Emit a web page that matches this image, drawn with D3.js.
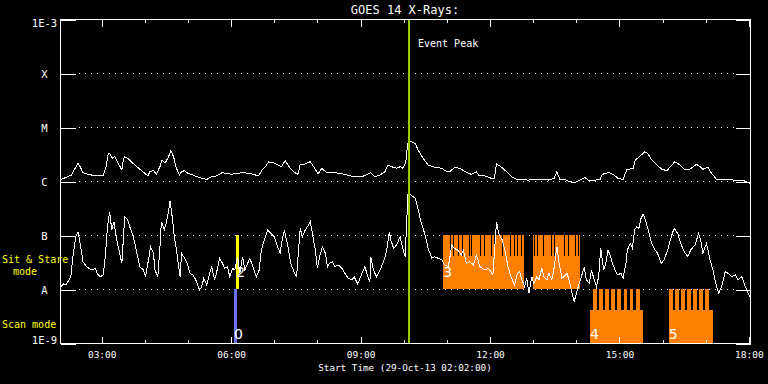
<!DOCTYPE html>
<html>
<head>
<meta charset="UTF-8">
<title>GOES 14 X-Rays</title>
<script src="https://d3js.org/d3.v7.min.js"></script>
<style>
  html, body { margin: 0; padding: 0; background: #000; }
  svg { display: block; }
  text { font-family: 'DejaVu Sans Mono', monospace; fill: #fff; }
</style>
</head>
<body>
<svg id="chart" width="768" height="384"></svg>
<script>
// GOES 14 long channel (1-8 A), [UT, W/m^2]
const longChannel = [
  ['02:03',1.07e-6],['02:11',1.17e-6],['02:18',1.29e-6],['02:23',1.72e-6],['02:27',2.13e-6],['02:30',1.84e-6],
  ['02:34',1.42e-6],['02:41',1.33e-6],['02:51',1.25e-6],['03:02',1.24e-6],['03:06',1.84e-6],['03:09',3.16e-6],
  ['03:11',3.26e-6],['03:15',2.63e-6],['03:18',2.82e-6],['03:23',2.13e-6],['03:28',1.6e-6],['03:30',2.45e-6],
  ['03:32',2.82e-6],['03:36',2.63e-6],['03:41',2.28e-6],['03:46',1.98e-6],['03:53',1.65e-6],['04:00',1.39e-6],
  ['04:04',1.24e-6],['04:07',1.49e-6],['04:12',1.55e-6],['04:16',1.35e-6],['04:21',1.84e-6],['04:24',2.45e-6],
  ['04:28',2.13e-6],['04:33',2.82e-6],['04:36',3.64e-6],['04:40',2.82e-6],['04:43',1.84e-6],['04:48',1.29e-6],
  ['04:51',1.49e-6],['04:55',1.55e-6],['05:00',1.39e-6],['05:10',1.24e-6],['05:19',1.12e-6],['05:26',1.07e-6],
  ['05:33',1.2e-6],['05:40',1.24e-6],['05:47',1.42e-6],['05:54',1.39e-6],['06:01',1.33e-6],['06:08',1.39e-6],
  ['06:17',1.42e-6],['06:24',1.39e-6],['06:31',1.33e-6],['06:38',1.24e-6],['06:43',1.6e-6],['06:47',1.79e-6],
  ['06:52',2.25e-6],['06:59',2.18e-6],['07:05',1.98e-6],['07:10',1.84e-6],['07:15',2.38e-6],['07:20',1.9e-6],
  ['07:22',1.72e-6],['07:29',1.42e-6],['07:33',1.33e-6],['07:36',2.06e-6],['07:40',1.98e-6],['07:45',2.13e-6],
  ['07:50',2.28e-6],['07:54',1.9e-6],['08:01',1.35e-6],['08:06',1.72e-6],['08:13',1.42e-6],['08:20',1.45e-6],
  ['08:29',1.39e-6],['08:38',1.33e-6],['08:50',1.2e-6],['09:01',1.2e-6],['09:08',1.29e-6],['09:14',1.42e-6],
  ['09:20',1.2e-6],['09:27',1.29e-6],['09:34',1.49e-6],['09:38',1.98e-6],['09:43',1.84e-6],['09:50',1.72e-6],
  ['09:55',1.84e-6],['09:59',1.72e-6],['10:03',2.28e-6],['10:05',4.32e-6],['10:07',5.74e-6],['10:10',5.34e-6],
  ['10:16',4.99e-6],['10:20',3.75e-6],['10:27',2.63e-6],['10:34',1.98e-6],['10:43',1.79e-6],['10:53',1.72e-6],
  ['10:57',1.55e-6],['11:04',1.49e-6],['11:11',1.79e-6],['11:18',1.72e-6],['11:25',1.49e-6],['11:34',1.33e-6],
  ['11:41',1.49e-6],['11:44',1.29e-6],['11:53',1.24e-6],['12:02',1.12e-6],['12:06',1.12e-6],['12:09',2.06e-6],
  ['12:15',1.84e-6],['12:23',1.49e-6],['12:30',1.2e-6],['12:37',1.07e-6],['12:44',1.07e-6],['12:53',1.04e-6],
  ['13:02',1.07e-6],['13:12',1.07e-6],['13:21',1.04e-6],['13:29',1.12e-6],['13:33',1.49e-6],['13:37',1.07e-6],
  ['13:44',1.07e-6],['13:51',9.7e-7],['13:58',9.3e-7],['14:05',1.04e-6],['14:12',1.17e-6],['14:17',1.01e-6],
  ['14:26',1.04e-6],['14:33',1.07e-6],['14:36',1.33e-6],['14:42',1.39e-6],['14:45',1.45e-6],['14:51',1.33e-6],
  ['14:58',1.12e-6],['15:05',1.07e-6],['15:10',1.6e-6],['15:15',1.67e-6],['15:19',1.72e-6],['15:22',2.45e-6],
  ['15:28',2.82e-6],['15:35',3.49e-6],['15:39',3.26e-6],['15:45',2.45e-6],['15:52',1.98e-6],['15:59',1.65e-6],
  ['16:06',1.55e-6],['16:10',1.79e-6],['16:17',2.28e-6],['16:24',1.98e-6],['16:31',1.6e-6],['16:38',1.65e-6],
  ['16:47',2.04e-6],['16:52',1.84e-6],['16:56',1.65e-6],['17:03',1.79e-6],['17:08',1.39e-6],['17:15',1.07e-6],
  ['17:24',1.07e-6],['17:34',1.07e-6],['17:43',1.01e-6],['17:54',1.0e-6],['18:01',9.07e-7]
];

// GOES 14 short channel (0.5-4 A), [UT, W/m^2]
const shortChannel = [
  ['02:03',1.10e-8],['02:07',1.24e-8],['02:10',1.19e-8],['02:13',1.37e-8],['02:17',1.69e-8],['02:20',3.96e-8],
  ['02:24',9.29e-8],['02:27',1.15e-7],['02:30',7.02e-8],['02:34',3.2e-8],['02:39',2.59e-8],['02:46',2.25e-8],
  ['02:51',2.42e-8],['02:54',1.9e-8],['02:58',1.69e-8],['03:02',1.82e-8],['03:05',3.96e-8],['03:08',1.42e-7],
  ['03:11',2.70e-7],['03:14',1.24e-7],['03:17',1.76e-7],['03:21',8.07e-8],['03:24',5.27e-8],['03:28',2.99e-8],
  ['03:30',8.07e-8],['03:32',2.18e-7],['03:36',1.9e-7],['03:39',1.42e-7],['03:44',9.29e-8],['03:49',4.58e-8],
  ['03:53',2.59e-8],['03:58',2.25e-8],['04:01',1.69e-8],['04:05',3.44e-8],['04:08',6.07e-8],['04:12',4.58e-8],
  ['04:14',2.25e-8],['04:18',1.69e-8],['04:21',6.07e-8],['04:23',1.76e-7],['04:27',1.24e-7],['04:29',1.53e-7],
  ['04:33',2.70e-7],['04:35',4.32e-7],['04:38',2.18e-7],['04:41',9.29e-8],['04:44',5.27e-8],['04:46',3.2e-8],
  ['04:49',1.69e-8],['04:51',4.58e-8],['04:54',3.96e-8],['04:58',3.2e-8],['05:03',1.95e-8],['05:07',1.82e-8],
  ['05:12',1.37e-8],['05:16',9.6e-9],['05:19',1.10e-8],['05:22',1.58e-8],['05:26',1.19e-8],['05:30',1.95e-8],
  ['05:33',2.52e-8],['05:37',1.47e-8],['05:40',2.09e-8],['05:44',3.70e-8],['05:48',2.99e-8],['05:51',2.42e-8],
  ['05:55',2.59e-8],['05:58',1.69e-8],['06:02',2.42e-8],['06:05',2.25e-8],['06:09',3.96e-8],['06:12',1.95e-8],
  ['06:16',3.96e-8],['06:19',2.25e-8],['06:23',2.99e-8],['06:26',3.70e-8],['06:31',2.42e-8],['06:35',1.69e-8],
  ['06:39',2.25e-8],['06:42',5.27e-8],['06:46',8.07e-8],['06:51',1.24e-7],['06:55',1.07e-7],['07:00',9.29e-8],
  ['07:03',7.02e-8],['07:08',4.58e-8],['07:11',8.07e-8],['07:14',1.24e-7],['07:17',8.07e-8],['07:19',6.07e-8],
  ['07:23',2.99e-8],['07:28',1.95e-8],['07:31',1.69e-8],['07:33',3.96e-8],['07:36',1.33e-7],['07:39',9.29e-8],
  ['07:43',1.24e-7],['07:46',1.42e-7],['07:50',1.76e-7],['07:53',1.07e-7],['07:57',5.27e-8],['08:00',2.42e-8],
  ['08:03',3.96e-8],['08:07',6.07e-8],['08:11',4.58e-8],['08:14',2.59e-8],['08:17',2.99e-8],['08:21',3.2e-8],
  ['08:24',2.59e-8],['08:29',2.78e-8],['08:34',2.42e-8],['08:38',1.95e-8],['08:43',1.58e-8],['08:48',1.47e-8],
  ['08:51',1.69e-8],['08:56',1.24e-8],['09:00',1.69e-8],['09:06',2.59e-8],['09:10',1.69e-8],['09:13',1.37e-8],
  ['09:14',3.96e-8],['09:18',2.25e-8],['09:22',1.69e-8],['09:27',2.25e-8],['09:32',3.2e-8],['09:36',4.91e-8],
  ['09:40',1.15e-7],['09:42',8.07e-8],['09:46',5.67e-8],['09:50',6.52e-8],['09:55',9.29e-8],['09:58',6.07e-8],
  ['10:02',3.96e-8],['10:04',1.65e-7],['10:06',5.92e-7],['10:10',5.50e-7],['10:16',4.78e-7],['10:19',3.34e-7],
  ['10:24',1.76e-7],['10:29',1.07e-7],['10:34',5.67e-8],['10:39',3.70e-8],['10:43',3.96e-8],['10:48',3.70e-8],
  ['10:53',3.44e-8],['10:57',2.78e-8],['11:02',2.59e-8],['11:07',6.52e-8],['11:10',5.67e-8],['11:15',5.27e-8],
  ['11:20',4.26e-8],['11:23',5.27e-8],['11:27',2.99e-8],['11:32',3.2e-8],['11:37',2.78e-8],['11:41',4.26e-8],
  ['11:46',2.59e-8],['11:52',2.25e-8],['11:58',2.42e-8],['12:04',1.82e-8],['12:09',1.76e-7],['12:12',1.07e-7],
  ['12:17',8.07e-8],['12:21',4.91e-8],['12:25',2.59e-8],['12:29',1.69e-8],['12:34',1.19e-8],['12:38',1.95e-8],
  ['12:41',2.09e-8],['12:43',1.69e-8],['12:48',1.10e-8],['12:51',1.58e-8],['12:54',8.3e-9],['12:58',1.69e-8],
  ['13:01',1.27e-8],['13:05',1.69e-8],['13:08',1.47e-8],['13:12',2.42e-8],['13:15',1.69e-8],['13:19',1.47e-8],
  ['13:22',1.95e-8],['13:26',1.47e-8],['13:29',2.42e-8],['13:33',6.07e-8],['13:36',2.99e-8],['13:40',1.58e-8],
  ['13:43',1.69e-8],['13:47',1.95e-8],['13:50',1.47e-8],['13:53',9.6e-9],['13:57',5.8e-9],['14:00',8.3e-9],
  ['14:04',1.27e-8],['14:07',1.69e-8],['14:11',2.52e-8],['14:14',1.47e-8],['14:18',1.27e-8],['14:21',2.25e-8],
  ['14:25',1.47e-8],['14:28',1.10e-8],['14:31',1.69e-8],['14:34',5.67e-8],['14:38',2.25e-8],['14:41',2.99e-8],
  ['14:44',5.27e-8],['14:47',4.26e-8],['14:50',2.99e-8],['14:54',2.25e-8],['14:57',1.82e-8],['15:02',1.95e-8],
  ['15:05',1.58e-8],['15:09',2.99e-8],['15:11',5.27e-8],['15:15',7.02e-8],['15:18',5.67e-8],['15:21',1.24e-7],
  ['15:24',1.42e-7],['15:27',1.33e-7],['15:30',2.04e-7],['15:33',2.42e-7],['15:36',1.9e-7],['15:40',1.24e-7],
  ['15:44',7.5e-8],['15:48',5.67e-8],['15:53',4.58e-8],['15:58',2.99e-8],['16:02',3.44e-8],['16:07',5.27e-8],
  ['16:12',9.29e-8],['16:16',1.33e-7],['16:21',1.07e-7],['16:25',7.02e-8],['16:30',4.91e-8],['16:35',3.96e-8],
  ['16:39',5.27e-8],['16:45',6.52e-8],['16:50',1.07e-7],['16:53',8.07e-8],['16:56',4.58e-8],['17:01',7.02e-8],
  ['17:06',3.44e-8],['17:10',2.25e-8],['17:15',1.10e-8],['17:18',8.3e-9],['17:22',1.10e-8],['17:27',2.09e-8],
  ['17:31',1.95e-8],['17:36',1.69e-8],['17:41',1.82e-8],['17:45',1.47e-8],['17:50',1.69e-8],['17:54',1.19e-8],
  ['17:59',8.3e-9],['18:01',7.2e-9]
];

// flux levels on the y axis
const levelValues = [1e-9, 1e-8, 1e-7, 1e-6, 1e-5, 1e-4, 1e-3];
const levelLabels = ['1E-9', 'A', 'B', 'C', 'M', 'X', '1E-3'];

const timeStart = '02:02';
const timeEnd = '18:01:30';
const eventPeak = '10:07';

// observations (label, mode, start, end)
const obsLabels = ['0', '2', '3', '3', '4', '5'];
const obsModes = ['scan', 'stare', 'stare', 'stare', 'scan', 'scan'];
const obsStart = ['06:04', '06:07', '10:55', '13:00', '14:19', '16:08:24'];
const obsEnd = ['06:08', '06:11', '12:47', '14:05', '15:32:42', '17:10'];

// flux bands of the two modes
const stareBand = [1e-8, 1e-7];
const scanBand = [1e-9, 1e-8];

// short pauses in sit & stare runs
const stareGaps = ['11:05', '11:09', '11:16', '11:21', '11:31', '11:34', '11:46', '11:52', '12:02', '12:05',
  '12:17', '12:28', '12:33', '12:37', '12:43', '13:01', '13:05', '13:14', '13:25', '13:29', '13:43', '13:49',
  '13:58', '14:02'];

// single rasters of the scan runs
const scanTeeth = [
  ['14:23:06','14:28:18'],['14:31:30','14:36:36'],['14:39:48','14:45:00'],['14:48:12','14:53:18'],
  ['14:56:54','15:02:06'],['15:05:48','15:10:48'],['15:14:12','15:19:12'],['15:22:54','15:28:06'],
  ['16:08:48','16:14:00'],['16:17:12','16:22:18'],['16:25:30','16:30:36'],['16:33:48','16:39:00'],
  ['16:42:36','16:47:42'],['16:50:54','16:56:06'],['16:59:18','17:04:24']
];

function t(s) {
  const p = s.split(':').map(Number);
  return new Date(Date.UTC(2013, 9, 29, p[0], p[1], p[2] || 0));
}

const plotLeft = 60, plotRight = 750, plotTop = 19, plotBottom = 343;
const COMB = 21;

const svg = d3.select('#chart');
svg.append('rect').attr('width', 768).attr('height', 384).attr('fill', '#000');

const x = d3.scaleUtc().domain([t(timeStart), t(timeEnd)]).range([plotLeft, plotRight]);
const y = d3.scaleLog().domain([1e-9, 1e-3]).range([plotBottom, plotTop]);
const px = s => Math.round(x(t(s)));

const obsColor = d3.scaleOrdinal()
  .domain(['0', '2', '3', '4', '5'])
  .range(['#7070ff', '#ffff00', '#ff8000', '#ff8000', '#ff8000']);

svg.append('defs').append('clipPath').attr('id', 'plot')
  .append('rect').attr('x', plotLeft).attr('y', plotTop)
  .attr('width', plotRight - plotLeft + 1).attr('height', plotBottom - plotTop);

// dotted level lines
svg.append('g')
  .selectAll('line')
  .data(levelValues.slice(1, -1))
  .enter().append('line')
  .attr('x1', plotLeft + 19).attr('x2', plotRight - 15)
  .attr('y1', d => Math.round(y(d)) + 0.5).attr('y2', d => Math.round(y(d)) + 0.5)
  .attr('stroke', '#fff').attr('stroke-dasharray', '1,5');

// observation blocks
const blocks = svg.append('g').attr('shape-rendering', 'crispEdges');
obsLabels.forEach((id, i) => {
  const band = obsModes[i] === 'stare' ? stareBand : scanBand;
  const yTop = Math.round(y(band[1]));
  const yBot = Math.round(y(band[0]));
  const x0 = px(obsStart[i]);
  const w = Math.max(px(obsEnd[i]) - x0, 2);
  const col = obsColor(id);
  blocks.append('rect')
    .attr('x', x0).attr('y', yTop + COMB)
    .attr('width', w).attr('height', yBot - yTop - COMB)
    .attr('fill', col);
  const teeth = scanTeeth.filter(d => t(d[0]) >= t(obsStart[i]) && t(d[1]) <= t(obsEnd[i]));
  if (teeth.length) {
    teeth.forEach(d => {
      blocks.append('rect')
        .attr('x', px(d[0])).attr('y', yTop)
        .attr('width', px(d[1]) - px(d[0])).attr('height', COMB)
        .attr('fill', col);
    });
  } else {
    blocks.append('rect')
      .attr('x', x0).attr('y', yTop)
      .attr('width', w).attr('height', COMB)
      .attr('fill', col);
  }
});

blocks.selectAll('.gap')
  .data(stareGaps)
  .enter().append('rect')
  .attr('class', 'gap')
  .attr('x', d => px(d))
  .attr('y', Math.round(y(stareBand[1])))
  .attr('width', 1).attr('height', COMB)
  .attr('fill', '#000');

// observation numbers
const seen = {};
obsLabels.forEach((id, i) => {
  if (seen[id]) return;
  seen[id] = true;
  const stare = obsModes[i] === 'stare';
  const yBot = y(stare ? stareBand[0] : scanBand[0]);
  svg.append('text')
    .attr('x', x(t(obsStart[i])))
    .attr('y', yBot - (stare ? 12 : 4))
    .style('font-family', "'DejaVu Sans', sans-serif")
    .style('font-size', '14px')
    .text(id);
});

// light curves
const line = d3.line()
  .x(d => x(t(d[0])))
  .y(d => y(d[1]));

[longChannel, shortChannel].forEach(series => {
  svg.append('path')
    .datum(series)
    .attr('clip-path', 'url(#plot)')
    .attr('d', line)
    .attr('fill', 'none')
    .attr('stroke', '#fff')
    .attr('stroke-width', 1)
    .attr('shape-rendering', 'crispEdges');
});

// event peak marker
const xp = Math.round(x(t(eventPeak)));
svg.append('line')
  .attr('x1', xp).attr('x2', xp).attr('y1', plotTop).attr('y2', plotBottom + 1)
  .attr('stroke', '#99cc00').attr('stroke-width', 2);
svg.append('text')
  .attr('x', xp + 9).attr('y', 47)
  .style('font-size', '10px')
  .text('Event Peak');

// axes
function styleAxis(g) {
  g.select('.domain').remove();
  g.selectAll('line').attr('stroke', '#fff').attr('shape-rendering', 'crispEdges');
}

const hours3 = d3.utcHour.every(3);
const hours1 = d3.utcHour.every(1);

svg.append('g')
  .attr('transform', `translate(0,${plotBottom + 0.5})`)
  .call(d3.axisBottom(x).ticks(hours1).tickSize(-4).tickFormat(''))
  .call(styleAxis);

svg.append('g')
  .attr('transform', `translate(0,${plotBottom + 0.5})`)
  .call(d3.axisBottom(x).ticks(hours3).tickSize(-7).tickPadding(8).tickFormat(d3.utcFormat('%H:%M')))
  .call(styleAxis)
  .selectAll('text')
  .style('font-size', '9.5px')
  .attr('fill', '#fff');

svg.append('g')
  .attr('transform', `translate(0,${plotTop + 0.5})`)
  .call(d3.axisTop(x).ticks(hours1).tickSize(-3).tickFormat(''))
  .call(styleAxis);

svg.append('g')
  .attr('transform', `translate(0,${plotTop + 0.5})`)
  .call(d3.axisTop(x).ticks(hours3).tickSize(-7).tickFormat(''))
  .call(styleAxis);

const yAxis = svg.append('g')
  .attr('transform', `translate(${plotLeft + 0.5},0)`)
  .call(d3.axisLeft(y).tickValues(levelValues).tickSize(-15).tickFormat((d, i) => levelLabels[i]))
  .call(styleAxis);
yAxis.selectAll('.tick line').attr('transform', 'translate(0,0.5)');
yAxis.selectAll('text')
  .attr('x', -16)
  .attr('text-anchor', 'middle')
  .attr('fill', '#fff')
  .attr('dy', (d, i) => i === 0 ? '0' : i === levelValues.length - 1 ? '0.75em' : '0.4em')
  .style('font-size', '10.5px');

svg.append('g')
  .attr('transform', `translate(${plotRight + 0.5},0)`)
  .call(d3.axisRight(y).tickValues(levelValues).tickSize(-15).tickFormat(''))
  .call(styleAxis)
  .selectAll('.tick line').attr('transform', 'translate(0,0.5)');

// frame
svg.append('rect')
  .attr('x', plotLeft + 0.5).attr('y', plotTop + 0.5)
  .attr('width', plotRight - plotLeft).attr('height', plotBottom - plotTop)
  .attr('fill', 'none').attr('stroke', '#fff').attr('shape-rendering', 'crispEdges');

// titles
svg.append('text')
  .attr('x', (plotLeft + plotRight) / 2).attr('y', 14)
  .attr('text-anchor', 'middle')
  .style('font-size', '12px')
  .text('GOES 14 X-Rays:');

svg.append('text')
  .attr('x', (plotLeft + plotRight) / 2).attr('y', 371)
  .attr('text-anchor', 'middle')
  .style('font-size', '9.3px')
  .text('Start Time (29-Oct-13 02:02:00)');

const modeText = [['Sit & Stare', 2, 263], ['mode', 13, 275], ['Scan mode', 2, 328]];
svg.append('g')
  .selectAll('text')
  .data(modeText)
  .enter().append('text')
  .attr('x', d => d[1]).attr('y', d => d[2])
  .style('font-size', '10px')
  .style('fill', '#ffff00')
  .text(d => d[0]);
</script>
</body>
</html>
